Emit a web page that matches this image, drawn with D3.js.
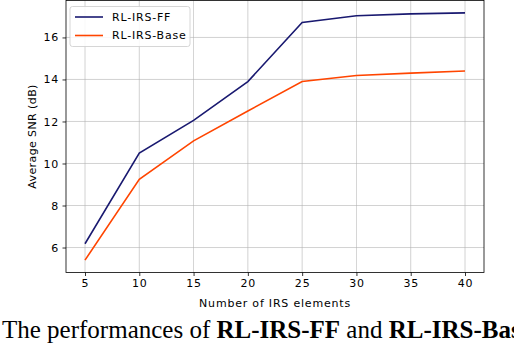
<!DOCTYPE html>
<html>
<head>
<meta charset="utf-8">
<script src="https://cdn.jsdelivr.net/npm/d3@7"></script>
<style>
  body { margin: 0; background: #fff; }
  svg { display: block; }
  .tick text { font-family: "DejaVu Sans", sans-serif; font-size: 11px; letter-spacing: 0.8px; fill: #000; }
  .lbl { font-family: "DejaVu Sans", sans-serif; font-size: 11px; letter-spacing: 0.8px; fill: #000; }
</style>
</head>
<body>
<div id="chart"></div>
<script>
// chart data
const elements = [5, 10, 15, 20, 25, 30, 35, 40];
const snrFF = [6.18, 10.5, 12.05, 13.9, 16.71, 17.03, 17.12, 17.17];
const snrBase = [5.4, 9.25, 11.08, 12.5, 13.9, 14.19, 14.3, 14.4];
const xTicks = [5, 10, 15, 20, 25, 30, 35, 40];
const yTicks = [6, 8, 10, 12, 14, 16];
const seriesNames = ["RL-IRS-FF", "RL-IRS-Base"];
const seriesColors = ["#191970", "#ff4500"];

const width = 514, height = 344;
const margin = { top: 0.5, right: 30, bottom: 71.5, left: 66 };
const innerW = width - margin.left - margin.right,
    innerH = height - margin.top - margin.bottom;

const svg = d3.select("#chart").append("svg")
    .attr("width", width)
    .attr("height", height);

const g = svg.append("g")
    .attr("transform", "translate(" + margin.left + "," + margin.top + ")");

// matplotlib-like 5% padding around the data
const xPad = (40 - 5) * 0.05;
const allY = snrFF.concat(snrBase);
const yMin = d3.min(allY), yMax = d3.max(allY), yPad = (yMax - yMin) * 0.05;

const x = d3.scaleLinear()
    .domain([5 - xPad, 40 + xPad])
    .range([0, innerW]);

const y = d3.scaleLinear()
    .domain([yMin - yPad, yMax + yPad])
    .range([innerH, 0]);

// grid
g.append("g")
    .selectAll("line")
    .data(xTicks)
    .join("line")
    .attr("x1", d => x(d)).attr("x2", d => x(d))
    .attr("y1", 0).attr("y2", innerH)
    .attr("stroke", "#b0b0b0").attr("stroke-width", 0.8).attr("opacity", 0.7);

g.append("g")
    .selectAll("line")
    .data(yTicks)
    .join("line")
    .attr("y1", d => y(d)).attr("y2", d => y(d))
    .attr("x1", 0).attr("x2", innerW)
    .attr("stroke", "#b0b0b0").attr("stroke-width", 0.8).attr("opacity", 0.7);

// lines
const series = [snrFF, snrBase];
const line = d3.line()
    .x((d, i) => x(elements[i]))
    .y(d => y(d));

series.forEach((s, i) => {
    g.append("path")
        .datum(s)
        .attr("fill", "none")
        .attr("stroke", seriesColors[i])
        .attr("stroke-width", 1.6)
        .attr("d", line);
});

// axes
const xAxis = g.append("g")
    .attr("transform", "translate(0," + innerH + ")")
    .call(d3.axisBottom(x).tickValues(xTicks).tickSize(3.5).tickPadding(3.5));
const yAxis = g.append("g")
    .call(d3.axisLeft(y).tickValues(yTicks).tickSize(3.5).tickPadding(3.5));
[xAxis, yAxis].forEach(a => {
    a.select(".domain").remove();
    a.selectAll(".tick line").attr("stroke", "#000").attr("stroke-width", 0.8);
});

// frame
g.append("rect")
    .attr("x", 0).attr("y", 0)
    .attr("width", innerW).attr("height", innerH)
    .attr("fill", "none")
    .attr("stroke", "#000").attr("stroke-width", 0.8);

// axis titles
g.append("text")
    .attr("class", "lbl")
    .attr("x", innerW / 2).attr("y", innerH + 34)
    .attr("text-anchor", "middle")
    .text("Number of IRS elements");

g.append("text")
    .attr("class", "lbl")
    .attr("transform", "translate(-34," + (innerH / 2) + ") rotate(-90)")
    .attr("text-anchor", "middle")
    .attr("dy", "0.35em")
    .style("letter-spacing", "0.4px")
    .text("Average SNR (dB)");

// legend
const legend = g.append("g").attr("transform", "translate(4,6)");
legend.append("rect")
    .attr("width", 120).attr("height", 40)
    .attr("rx", 2.5)
    .attr("fill", "#fff").attr("fill-opacity", 0.85)
    .attr("stroke", "#ccc").attr("stroke-width", 0.8);
seriesNames.forEach((name, i) => {
    const yy = 10.5 + i * 18.5;
    legend.append("line")
        .attr("x1", 5).attr("x2", 33)
        .attr("y1", yy).attr("y2", yy)
        .attr("stroke", seriesColors[i]).attr("stroke-width", 1.6);
    legend.append("text")
        .attr("class", "lbl")
        .attr("x", 42).attr("y", yy)
        .attr("dy", "0.35em")
        .text(name);
});

// caption below the figure
const caption = svg.append("text")
    .attr("x", 2).attr("y", 337.5)
    .style("font-family", "Liberation Serif, Times New Roman, serif")
    .style("font-size", "25px");
caption.append("tspan").text("The performances of ");
caption.append("tspan").attr("font-weight", "bold").text("RL-IRS-FF");
caption.append("tspan").text(" and ");
caption.append("tspan").attr("font-weight", "bold").text("RL-IRS-Base");
</script>
</body>
</html>
